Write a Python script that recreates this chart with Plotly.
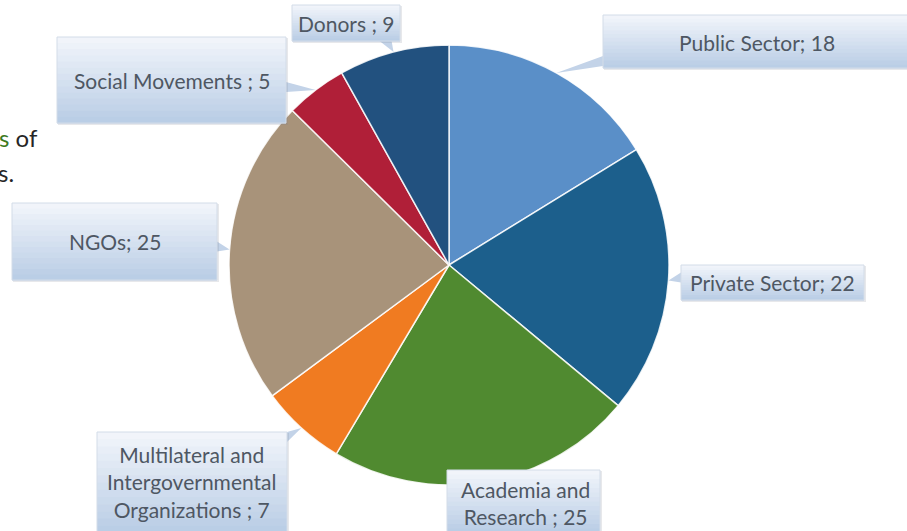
import math
import plotly.graph_objects as go

# Stakeholder groups and counts
categories = [
    "Public Sector",
    "Private Sector",
    "Academia and Research",
    "Multilateral and Intergovernmental Organizations",
    "NGOs",
    "Social Movements",
    "Donors",
]
values = [18, 22, 25, 7, 25, 5, 9]
label_texts = [
    "Public Sector; 18",
    "Private Sector; 22",
    "Academia and<br>Research ; 25",
    "Multilateral and<br>Intergovernmental<br>Organizations ; 7",
    "NGOs; 25",
    "Social Movements ; 5",
    "Donors ; 9",
]
colors = ["#5A8FC8", "#1C5F8C", "#508A30", "#F07B21", "#A8937A", "#B01F38", "#22517F"]

W, H = 907, 531
CX, CY, R = 449, 265, 220

# callout boxes in pixels: x0, x1, y0, y1
boxes = [
    (603, 910, 15, 68),
    (681, 864, 265, 300),
    (447, 600, 470, 533),
    (97, 287, 432, 533),
    (12, 217, 203, 280),
    (57, 286, 37, 123),
    (292, 400, 5, 41),
]
# label text centres where they differ from the box centre
text_centres = {0: (757, 42), 2: (525, 503), 3: (191, 482)}


def px(x):
    return x / W


def py(y):
    return 1 - y / H


fig = go.Figure()
fig.add_trace(go.Pie(
    labels=categories,
    values=values,
    sort=False,
    direction="clockwise",
    rotation=0,
    textinfo="none",
    hoverinfo="label+value",
    marker=dict(colors=colors, line=dict(color="rgba(255,255,255,0.85)", width=1.5)),
    domain=dict(x=[px(CX - R), px(CX + R)], y=[py(CY + R), py(CY - R)]),
    showlegend=False,
))

shapes = []
annotations = []


def lerp(c1, c2, t):
    return "#%02x%02x%02x" % tuple(round(a + (b - a) * t) for a, b in zip(c1, c2))


top_c = (0xF3, 0xF6, 0xFB)
bot_c = (0xB8, 0xCC, 0xE5)

total = sum(values)
cum = 0
for i, v in enumerate(values):
    mid = (cum + v / 2) / total * 2 * math.pi
    cum += v
    tipx = CX + R * math.sin(mid)
    tipy = CY - R * math.cos(mid)
    x0, x1, y0, y1 = boxes[i]

    # pointer wedge from the box edge to the slice rim
    if tipx > x1:
        bx = x1
        by = min(max(tipy, y0 + 8), y1 - 4)
        base = [(bx, by - 8), (bx, by + 2)]
    elif tipx < x0:
        bx = x0
        by = min(max(tipy, y0 + 8), y1 - 4)
        base = [(bx, by - 8), (bx, by + 2)]
    elif tipy > y1:
        bx = min(max(tipx, x0 + 14), x1 - 4)
        base = [(bx - 14, y1), (bx - 2, y1)]
    elif tipy < y0:
        bx = min(max(tipx, x0 + 14), x1 - 4)
        base = [(bx - 14, y0), (bx - 2, y0)]
    else:
        base = None
    if base is not None:
        path = "M {} {} L {} {} L {} {} Z".format(
            px(base[0][0]), py(base[0][1]), px(base[1][0]), py(base[1][1]), px(tipx), py(tipy))
        shapes.append(dict(type="path", path=path, xref="paper", yref="paper",
                           fillcolor="#C3D3E8", line=dict(width=0), layer="above"))

    # soft shadow
    shapes.append(dict(type="rect", xref="paper", yref="paper",
                       x0=px(x0 + 1), x1=px(x1 + 2), y0=py(y1 + 2), y1=py(y0 + 1),
                       fillcolor="rgba(120,130,145,0.18)", line=dict(width=0), layer="above"))
    # gradient fill in horizontal strips
    n = 14
    for k in range(n):
        sy0 = y0 + (y1 - y0) * k / n
        sy1 = y0 + (y1 - y0) * (k + 1) / n
        shapes.append(dict(type="rect", xref="paper", yref="paper",
                           x0=px(x0), x1=px(x1), y0=py(sy1 + 0.5), y1=py(sy0),
                           fillcolor=lerp(top_c, bot_c, (k + 0.5) / n),
                           line=dict(width=0), layer="above"))
    shapes.append(dict(type="rect", xref="paper", yref="paper",
                       x0=px(x0), x1=px(x1), y0=py(y1), y1=py(y0),
                       fillcolor="rgba(0,0,0,0)", line=dict(color="#D3DCE8", width=1),
                       layer="above"))

    tx, ty = text_centres.get(i, ((x0 + x1) / 2, (y0 + y1) / 2))
    annotations.append(dict(
        text=label_texts[i], xref="paper", yref="paper",
        x=px(tx), y=py(ty),
        xanchor="center", yanchor="middle", showarrow=False, align="center",
        font=dict(family="Lato, 'Open Sans', sans-serif", size=21, color="#4E5763"),
    ))

# fragment of slide body text at the left edge
annotations.append(dict(
    text="<span style='color:#3E7A1E'>s</span> of", xref="paper", yref="paper",
    x=px(40), y=py(137), xanchor="right", yanchor="middle", showarrow=False,
    font=dict(family="Lato, sans-serif", size=24, color="#262626"),
))
annotations.append(dict(
    text="s.", xref="paper", yref="paper",
    x=px(16), y=py(172), xanchor="right", yanchor="middle", showarrow=False,
    font=dict(family="Lato, sans-serif", size=24, color="#262626"),
))

fig.update_layout(
    width=W, height=H,
    margin=dict(l=0, r=0, t=0, b=0),
    paper_bgcolor="white",
    plot_bgcolor="white",
    shapes=shapes,
    annotations=annotations,
)

fig.write_html("out.html")
